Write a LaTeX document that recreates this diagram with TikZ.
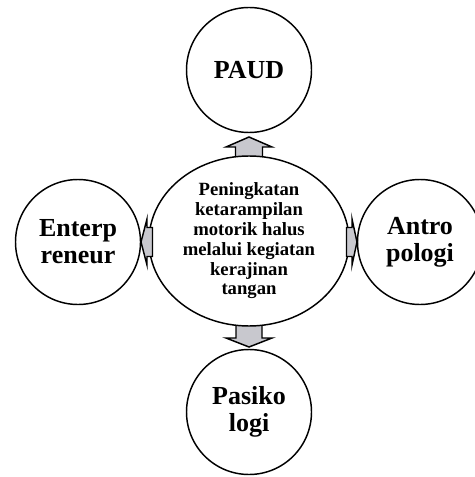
\documentclass[tikz,border=0pt]{standalone}
\usepackage{fontspec}
\setmainfont{Liberation Serif}
\usetikzlibrary{calc,shapes.geometric}
\definecolor{arrowgrey}{RGB}{200,200,206}
\pgfdeclarelayer{back}
\pgfdeclarelayer{links}
\pgfdeclarelayer{top}
\pgfsetlayers{back,main,links,top}
\begin{document}
\begin{tikzpicture}[x=0.75pt,y=-0.75pt,
  topic/.style={circle, draw=black, line width=1.1pt, fill=white,
    minimum size=93.75pt, inner sep=0pt, outer sep=0pt, align=center,
    font=\fontsize{19.5}{20.25}\selectfont\bfseries},
  hub/.style={ellipse, draw=black, line width=1.1pt, fill=white,
    minimum width=150pt, minimum height=127.5pt, inner sep=0pt, outer sep=0pt,
    align=center, font=\fontsize{14}{14.85}\selectfont\bfseries},
  blockarrow/.style={draw=black, line width=1.1pt, fill=arrowgrey, line join=miter}]
\useasboundingbox (0,0) rectangle (474,477);
\begin{scope}
\clip (0,0) rectangle (474,477);

% central topic
\node[hub] (core) at (249,241) {Peningkatan\\ketarampilan\\motorik halus\\melalui kegiatan\\kerajinan\\tangan};

% surrounding fields
\begin{pgfonlayer}{top}
\node[topic] (paud) at (249,70) {PAUD};
\node[topic] (pasiko) at (249,412) {Pasiko\\logi};
\node[topic] (ent) at (78,242) {Enterp\\reneur};
\node[topic] (ant) at (420,242) {Antro\\pologi};
\end{pgfonlayer}

% vertical block arrows, tucked under the central ellipse
\begin{pgfonlayer}{back}
\draw[blockarrow] ($(paud.south)+(0,4.5)$) -- ($(paud.south)+(23,14.5)$)
  -- ($(paud.south)+(13.5,14.5)$) -- ($(core.north)+(13.5,6)$)
  -- ($(core.north)+(-13.5,6)$) -- ($(paud.south)+(-13.5,14.5)$)
  -- ($(paud.south)+(-23,14.5)$) -- cycle;
\draw[blockarrow] ($(pasiko.north)+(0,-2.5)$) -- ($(pasiko.north)+(23,-11.5)$)
  -- ($(pasiko.north)+(13,-11.5)$) -- ($(core.south)+(13,-6)$)
  -- ($(core.south)+(-13,-6)$) -- ($(pasiko.north)+(-13,-11.5)$)
  -- ($(pasiko.north)+(-23,-11.5)$) -- cycle;
\end{pgfonlayer}

% short side arrows, over the ellipse and under the side circles
\begin{pgfonlayer}{links}
\draw[blockarrow] ($(ent.east)+(0.5,0)$) -- ($(ent.east)+(6.5,-23)$)
  -- ($(ent.east)+(6.5,-14.5)$) -- ($(core.west)+(3.5,-14.5)+(0,1)$)
  -- ($(core.west)+(3.5,14.5)+(0,1)$) -- ($(ent.east)+(6.5,14.5)$)
  -- ($(ent.east)+(6.5,23)$) -- cycle;
\draw[blockarrow] ($(ant.west)+(-0.5,0)$) -- ($(ant.west)+(-5.5,-23)$)
  -- ($(ant.west)+(-5.5,-14.5)$) -- ($(core.east)+(-2.5,-14.5)+(0,1)$)
  -- ($(core.east)+(-2.5,14.5)+(0,1)$) -- ($(ant.west)+(-5.5,14.5)$)
  -- ($(ant.west)+(-5.5,23)$) -- cycle;
\end{pgfonlayer}
\end{scope}
\end{tikzpicture}
\end{document}
